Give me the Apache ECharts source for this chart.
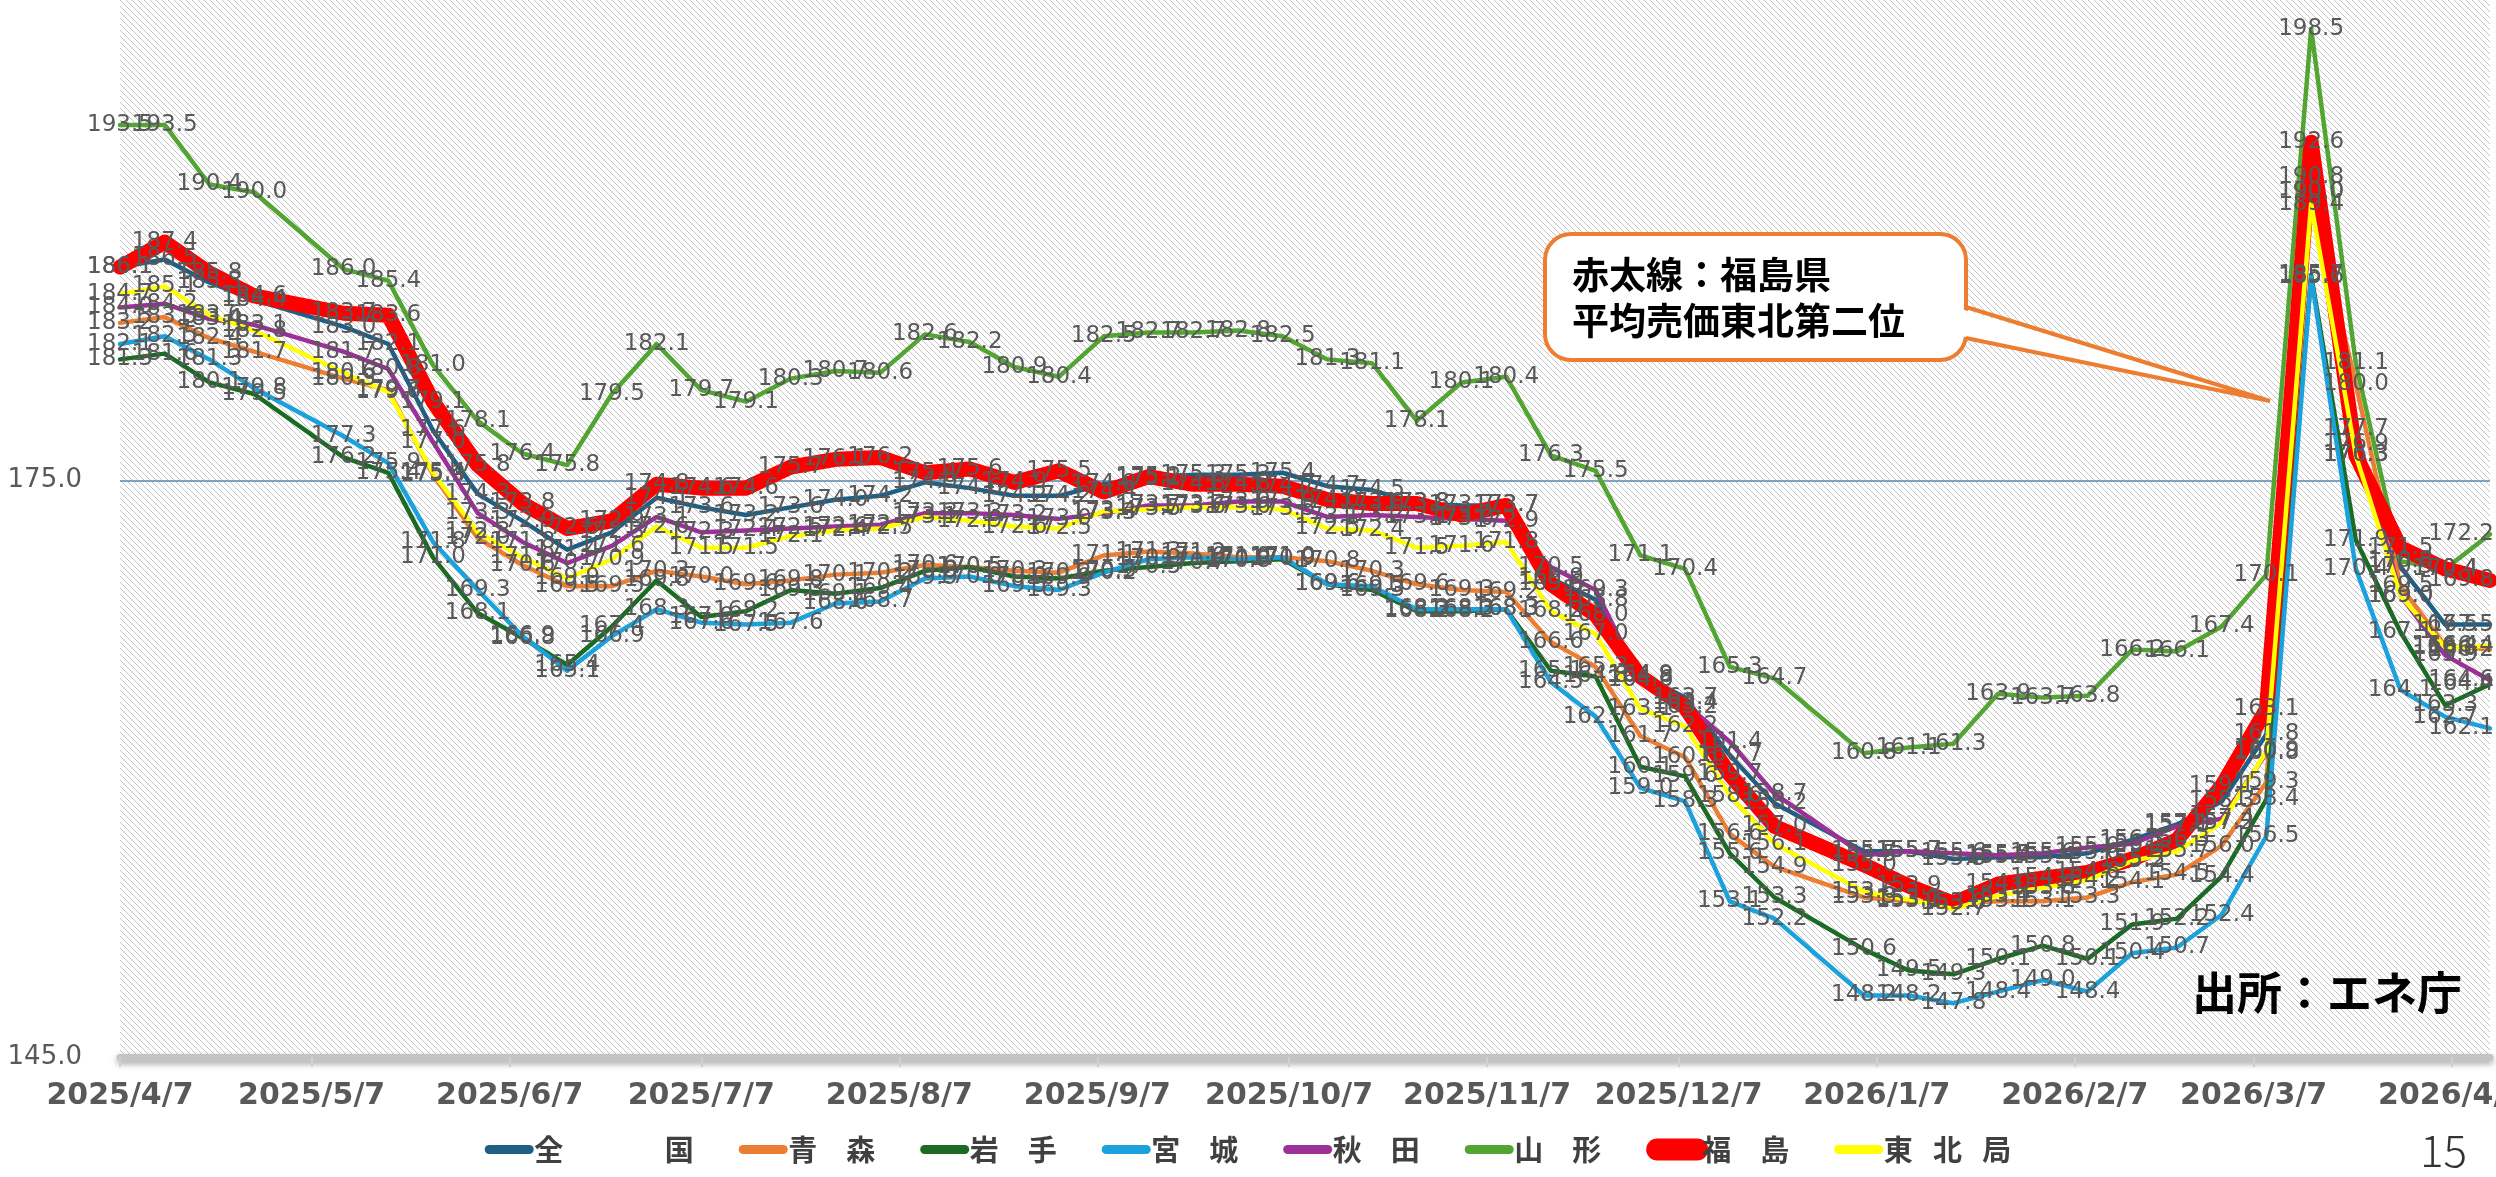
<!DOCTYPE html>
<html>
<head>
<meta charset="utf-8">
<script src="https://cdn.jsdelivr.net/npm/echarts@6/dist/echarts.min.js"></script>
<style>
html,body{margin:0;padding:0;background:#fff;}
#c{width:2496px;height:1177px;}
</style>
</head>
<body>
<div id="c"></div>
<script>
// ---- data ----
const dates = ['2025-04-07','2025-04-14','2025-04-21','2025-04-28','2025-05-12','2025-05-19','2025-05-26','2025-06-02','2025-06-09','2025-06-16','2025-06-23','2025-06-30','2025-07-07','2025-07-14','2025-07-21','2025-07-28','2025-08-04','2025-08-11','2025-08-18','2025-08-25','2025-09-01','2025-09-08','2025-09-15','2025-09-22','2025-09-29','2025-10-06','2025-10-13','2025-10-20','2025-10-27','2025-11-03','2025-11-10','2025-11-17','2025-11-24','2025-12-01','2025-12-08','2025-12-15','2025-12-22','2026-01-05','2026-01-12','2026-01-19','2026-01-26','2026-02-02','2026-02-09','2026-02-16','2026-02-23','2026-03-02','2026-03-09','2026-03-16','2026-03-23','2026-03-30','2026-04-06','2026-04-13'];

const zenkoku = [186.1,186.5,185.3,184.4, 183.0,182.1,177.6,174.3,172.9,171.4, 172.3,174.1,173.6,173.2,173.6,174.0,174.2, 174.9,174.6,174.2,174.2, 174.8,175.1,175.3,175.3,175.4, 174.7,174.5,173.8,173.7,173.7, 169.9,168.8,164.9,163.7,160.7,158.2, 155.7,155.7,155.3, 155.4,155.4,155.6,156.3,157.1, 158.3,161.8,190.8,176.9,170.5,167.5,167.5];
const aomori = [183.2,183.5,182.4,181.7, 180.3,179.7,175.3,172.0,170.6,169.5, 169.5,170.3,170.0,169.6,169.8,170.1,170.2, 170.6,170.5,170.3,170.2, 171.1,171.3,171.2,171.0,171.0, 170.8,170.3,169.6,169.3,169.2, 166.6,165.3,161.7,160.6,156.6,154.9, 153.3,153.1,153.0, 153.1,153.1,153.3,154.1,154.5, 156.0,159.3,190.0,180.0,169.5,166.4,166.2];
const iwate = [181.3,181.6,180.1,179.5, 176.2,175.4,171.0,168.1,166.8,165.4, 167.4,169.8,167.9,168.2,169.3,169.1,169.4, 170.3,170.5,170.0,169.9, 170.3,170.5,170.7,170.8,170.9, 169.6,169.3,168.2,168.2,168.3, 165.1,164.8,160.1,159.6,155.6,153.3, 150.6,149.5,149.3, 150.1,150.8,150.1,151.9,152.2, 154.4,158.4,185.7,171.9,167.1,163.3,164.4];
const miyagi = [182.1,182.5,181.3,179.8, 177.3,175.9,171.8,169.3,166.9,165.1, 166.9,168.3,167.6,167.5,167.6,168.6,168.7, 169.9,170.0,169.5,169.3, 170.2,170.9,171.0,170.9,171.0, 169.6,169.5,168.3,168.3,168.3, 164.5,162.7,159.0,158.3,153.1,152.2, 148.2,148.2,147.8, 148.4,149.0,148.4,150.4,150.7, 152.4,156.5,185.6,170.4,164.1,162.7,162.1];
const akita = [184.0,184.2,183.4,183.1, 181.7,180.8,177.0,173.3,171.8,170.7, 171.6,173.1,172.3,172.4,172.5,172.6,172.7, 173.3,173.3,173.2,173.0, 173.3,173.7,173.7,173.9,173.9, 173.1,173.2,173.1,173.0,172.9, 170.5,169.3,164.6,163.4,161.4,158.7, 155.5,155.7,155.6, 155.5,155.6,155.9,156.1,157.0, 157.4,160.8,190.0,177.7,169.0,165.9,164.6];
const yamagata = [193.5,193.5,190.4,190.0, 186.0,185.4,181.0,178.1,176.4,175.8, 179.5,182.1,179.7,179.1,180.3,180.7,180.6, 182.6,182.2,180.9,180.4, 182.5,182.7,182.7,182.8,182.5, 181.3,181.1,178.1,180.1,180.4, 176.3,175.5,171.1,170.4,165.3,164.7, 160.8,161.1,161.3, 163.9,163.7,163.8,166.2,166.1, 167.4,170.1,198.5,181.1,170.8,170.4,172.2];
const fukushima = [186.1,187.4,185.8,184.6, 183.7,183.6,179.1,175.8,173.8,172.5, 172.9,174.8,174.6,174.6,175.7,176.1,176.2, 175.4,175.6,174.9,175.5, 174.4,175.2,174.8,174.8,174.7, 174.0,173.8,173.8,173.2,173.7, 169.6,168.0,164.8,163.2,159.7,157.0, 155.0,153.9,153.0, 154.0,154.3,154.6,155.3,156.3, 159.1,163.1,192.6,176.3,171.5,170.4,169.8];
const tohokukyoku = [184.7,185.1,183.6,182.8, 180.6,179.6,175.4,172.3,171.0,169.9, 170.9,172.6,171.5,171.5,172.1,172.4,172.5, 173.1,172.9,172.6,172.5, 173.4,173.5,173.6,173.6,173.5, 172.5,172.4,171.5,171.6,171.8, 168.2,167.0,163.1,162.2,158.6,156.1, 153.6,153.2,152.7, 153.4,153.8,154.2,155.2,155.7, 157.2,160.9,189.4,176.3,169.0,166.3,166.4];

const seriesNames = ['全　　　\u2002国','青　森','岩　手','宮　城','秋　田','山　形','福　島','東\u2002\u2009北\u2002\u2009局'];
const tickDates = ['2025-04-07','2025-05-07','2025-06-07','2025-07-07','2025-08-07','2025-09-07','2025-10-07','2025-11-07','2025-12-07','2026-01-07','2026-02-07','2026-03-07','2026-04-07'];
const axisMin = '2025-04-07', axisMax = '2026-04-13';
const yTicks = {min:145, max:200, interval:30};

// ---- helpers ----
const DAY = 86400000;
function ts(s){const p=s.split('-').map(Number);return Date.UTC(p[0],p[1]-1,p[2]);}
const t0 = ts(axisMin);
function dayOf(s){return Math.round((ts(s)-t0)/DAY);}
function dayLabel(v){const d=new Date(t0+Math.round(v)*DAY);return d.getUTCFullYear()+'/'+(d.getUTCMonth()+1)+'/'+d.getUTCDate();}
function pts(vals){
  return dates.map((d,i)=>{
    const item = {value: [dayOf(d), vals[i]]};
    if (i === dates.length - 1) item.label = {align: 'right', offset: [4, 0]};
    return item;
  });
}

const colors = ['#1F5F86','#ED7D31','#1C6B24','#1BA1DC','#9C2F98','#53A532','#FF0000','#FFFF00'];
const widths = [4.5,4.5,4.5,4.5,4.5,4.5,15,4.5];
const allVals = [zenkoku,aomori,iwate,miyagi,akita,yamagata,fukushima,tohokukyoku];

// hatch pattern
const pc = document.createElement('canvas');
pc.width = 6; pc.height = 6;
const pctx = pc.getContext('2d');
const img = pctx.createImageData(6,6);
for(let y=0;y<6;y++)for(let x=0;x<6;x++){
  const k=(y*6+x)*4;
  const on = ((x - y) % 6 + 6) % 6 === 0;
  const v = on ? 196 : 255;
  img.data[k]=v;img.data[k+1]=v;img.data[k+2]=v;img.data[k+3]=255;
}
pctx.putImageData(img,0,0);

const series = allVals.map((vals,i)=>({
  name: seriesNames[i],
  type: 'line',
  data: pts(vals),
  symbol: 'circle',
  symbolSize: 1,
  itemStyle: {color: colors[i]},
  lineStyle: {color: colors[i], width: widths[i], cap: 'round', join: 'round'},
  label: {
    show: true,
    position: 'inside',
    formatter: p => p.value[1].toFixed(1),
    color: '#595959',
    fontSize: 23,
    fontFamily: 'DejaVu Sans'
  },
  animation: false
}));

const tickDays = tickDates.map(dayOf);

const chart = echarts.init(document.getElementById('c'), null, {renderer:'canvas'});
chart.setOption({
  animation: false,
  backgroundColor: '#fff',
  grid: {
    left: 120, right: 6, top: 0, bottom: 120,
    outerBoundsMode: 'none',
    containLabel: false,
    show: true,
    backgroundColor: {image: pc, repeat: 'repeat'},
    borderWidth: 0
  },
  xAxis: {
    type: 'value',
    min: 0, max: dayOf(axisMax),
    axisLine: {show: true, onZero: false, lineStyle: {color: '#C4C4C4', width: 7, shadowColor: 'rgba(0,0,0,0.35)', shadowBlur: 6, shadowOffsetY: 3}},
    axisTick: {show: true, customValues: tickDays, length: 10, lineStyle: {color: '#D0D0D0', width: 2}},
    axisLabel: {
      customValues: tickDays,
      formatter: v => dayLabel(v),
      color: '#595959', fontSize: 30, fontWeight: 'bold', fontFamily: 'DejaVu Sans', margin: 24
    },
    splitLine: {show: false}
  },
  yAxis: {
    type: 'value',
    min: yTicks.min, max: yTicks.max, interval: yTicks.interval,
    axisLine: {show: false},
    axisTick: {show: false},
    axisLabel: {
      formatter: v => v === yTicks.max ? '' : v.toFixed(1),
      showMaxLabel: false,
      color: '#595959', fontSize: 26, fontFamily: 'DejaVu Sans', margin: 38
    },
    splitLine: {show: true, showMinLine: false, showMaxLine: false, lineStyle: {color: '#7FA3BF', width: 2}}
  },
  legend: {
    data: seriesNames.map((n,i)=>({name: n, lineStyle: {width: i === 6 ? 22 : 9, cap: 'round'}})),
    left: 'center',
    top: 1130,
    itemWidth: 40,
    itemHeight: 22,
    itemGap: 45,
    itemStyle: {opacity: 0},
    textStyle: {fontSize: 29, fontWeight: 'bold', color: '#404040', fontFamily: 'Noto Sans CJK JP'}
  },
  graphic: [
    {type: 'rect', shape: {x: 1545, y: 234, width: 421, height: 126, r: 26}, style: {fill: '#fff', stroke: '#ED7D31', lineWidth: 4}, z: 100},
    {type: 'polygon', shape: {points: [[1961,309],[2270,401],[1961,336]]}, style: {fill: '#fff'}, z: 101},
    {type: 'polyline', shape: {points: [[1966,307],[2270,401],[1966,338]]}, style: {stroke: '#ED7D31', lineWidth: 4, fill: null}, z: 102},
    {type: 'text', x: 1572, y: 252, style: {text: '赤太線：福島県\n平均売価東北第二位', fill: '#000', font: 'bold 37px "Noto Sans CJK JP"', lineHeight: 46}, z: 103},
    {type: 'text', x: 2192, y: 970, style: {text: '出所：エネ庁', fill: '#000', font: 'bold 45px "Noto Sans CJK JP"'}, z: 103},
    {type: 'text', x: 2420, y: 1128, style: {text: '15', fill: '#333', font: '300 44px "Noto Sans CJK JP"'}, z: 103}
  ],
  series: series
});
</script>
</body>
</html>
